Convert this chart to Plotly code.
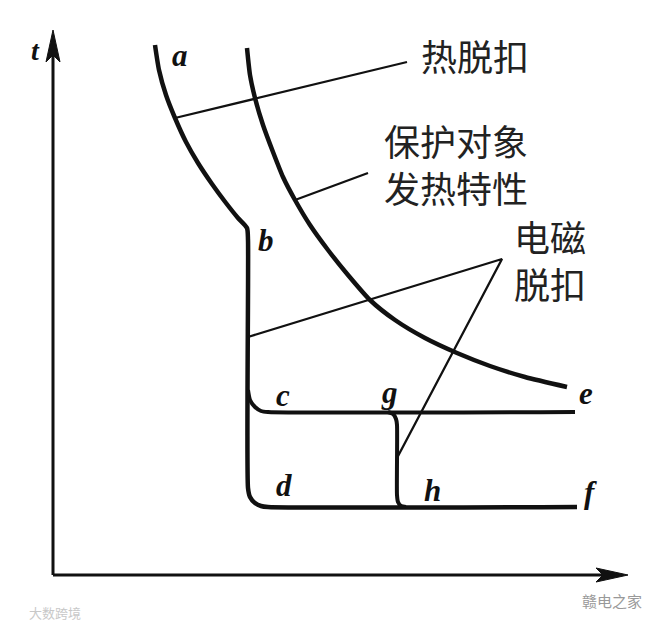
import plotly.graph_objects as go

W, H = 668, 630
PAGE_MARGIN = 8  # default body margin of the html page

# --- schematic data (pixel-space drawing units) ---
axis_origin = (53, 575)
axis_x_end = 628
axis_y_end = 30

# thermal trip curve a -> b -> d -> f
thermal_x = [155, 159, 166, 175, 186, 198, 212, 226, 238, 247, 248, 248, 250, 255, 261, 268, 577]
thermal_y = [45, 70, 95, 118, 142, 163, 184, 203, 218, 228, 240, 488, 497, 503, 506, 507, 507]

# electromagnetic branch c -> g -> e-level line
branch_c_x = [248, 250, 255, 261, 268, 575]
branch_c_y = [390, 400, 407, 411, 412, 412]

# g -> h vertical
gh_x = [388, 393, 396, 397, 397, 398, 401, 406]
gh_y = [412, 414, 419, 425, 495, 502, 506, 507]

# protected object heating characteristic curve
heat_x = [247, 250, 255, 263, 273, 283, 295, 310, 328, 348, 370, 395, 425, 457, 490, 525, 567]
heat_y = [48, 75, 98, 125, 152, 177, 200, 225, 250, 275, 300, 320, 338, 353, 366, 377, 387]

# leader lines
leaders = [
    ([175, 407], [118, 62]),
    ([295, 368], [200, 173]),
    ([248, 502, 397], [337, 259, 458]),
]

letters = ["a", "b", "c", "g", "e", "d", "h", "f"]
letters_x = [180, 266, 283, 389, 586, 284, 432, 590]
letters_y = [55, 240, 395, 392, 393, 485, 490, 492]

cn_labels = ["热脱扣", "保护对象<br>发热特性", "电磁<br>脱扣"]
cn_x = [475, 456, 550]
cn_y = [55, 163, 259]

fig = go.Figure()

def line(xs, ys, w):
    fig.add_trace(go.Scatter(x=xs, y=ys, mode="lines",
                             line=dict(color="#111111", width=w, shape="spline", smoothing=0.6),
                             hoverinfo="skip", showlegend=False))

line(thermal_x, thermal_y, 4.5)
line(branch_c_x, branch_c_y, 4)
line(gh_x, gh_y, 4)
line(heat_x, heat_y, 4.5)
for lx, ly in leaders:
    fig.add_trace(go.Scatter(x=lx, y=ly, mode="lines",
                             line=dict(color="#111111", width=2.3),
                             hoverinfo="skip", showlegend=False))

ox, oy = axis_origin
shapes = [
    dict(type="line", x0=ox, y0=oy, x1=axis_x_end - 20, y1=oy, line=dict(color="#111", width=3)),
    dict(type="line", x0=ox, y0=oy, x1=ox, y1=axis_y_end + 20, line=dict(color="#111", width=3)),
    dict(type="path",
         path=f"M {axis_x_end} {oy} L {axis_x_end-32} {oy-7} L {axis_x_end-25} {oy} L {axis_x_end-32} {oy+7} Z",
         fillcolor="#111", line=dict(color="#111", width=1)),
    dict(type="path",
         path=f"M {ox} {axis_y_end} L {ox-7} {axis_y_end+32} L {ox} {axis_y_end+25} L {ox+7} {axis_y_end+32} Z",
         fillcolor="#111", line=dict(color="#111", width=1)),
]

annotations = [dict(x=35, y=50, text="<b><i>t</i></b>", showarrow=False,
                    font=dict(family="Liberation Serif", size=28, color="#111"))]
for t, x, y in zip(letters, letters_x, letters_y):
    annotations.append(dict(x=x, y=y, text=f"<b><i>{t}</i></b>", showarrow=False,
                            font=dict(family="Liberation Serif", size=31, color="#111")))
for t, x, y in zip(cn_labels, cn_x, cn_y):
    annotations.append(dict(x=x, y=y, text=t, showarrow=False, align="left",
                            font=dict(family="Noto Sans CJK SC", size=36, color="#222")))
annotations.append(dict(x=612, y=600, text="赣电之家", showarrow=False,
                        font=dict(family="Noto Sans CJK SC", size=15, color="#999")))
annotations.append(dict(x=55, y=612, text="大数跨境", showarrow=False,
                        font=dict(family="Noto Sans CJK SC", size=13, color="#c8c8c8")))

fig.update_layout(
    width=W - PAGE_MARGIN, height=H - PAGE_MARGIN, margin=dict(l=0, r=0, t=0, b=0),
    paper_bgcolor="white", plot_bgcolor="white",
    xaxis=dict(range=[PAGE_MARGIN, W], visible=False, fixedrange=True),
    yaxis=dict(range=[H, PAGE_MARGIN], visible=False, fixedrange=True),
    shapes=shapes, annotations=annotations,
)

fig.write_html("out.html")
